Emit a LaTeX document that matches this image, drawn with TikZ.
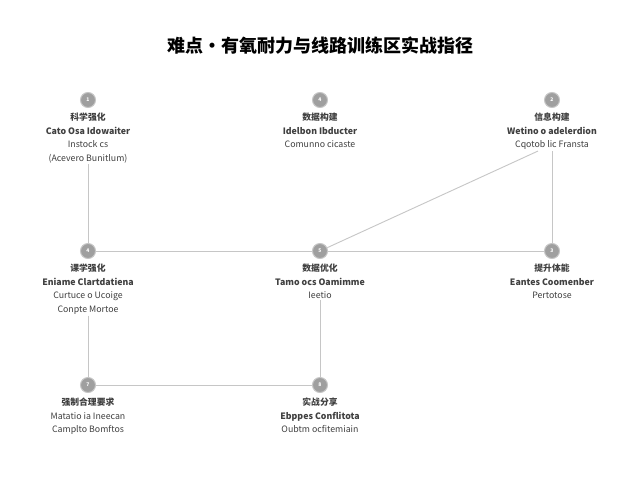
\documentclass[tikz,border=0pt]{standalone}
\usepackage{fontspec}
\usetikzlibrary{calc}
\setmainfont{Noto Sans CJK SC}
\begin{document}
\begin{tikzpicture}[x=1pt,y=-1pt,
 dot/.style={circle,fill=gray!75,draw=gray!45,line width=1pt,minimum size=15pt,inner sep=0pt,text=white,font=\fontsize{5}{5}\selectfont\bfseries},
 lbl/.style={below=4pt,align=center,font=\fontsize{8.8}{13.5}\selectfont,text=black!75,inner sep=1pt},
 ln/.style={draw=gray!45,line width=0.9pt}]
\useasboundingbox[fill=white] (0,0) rectangle (640,480);
\node[font=\fontsize{18}{20}\selectfont\bfseries] (title) at (320,46) {难点·有氧耐力与线路训练区实战指径};
\node[dot] (c1) at (88,100) {1};
\node[dot] (c2) at (320,100) {4};
\node[dot] (c3) at (552,100) {2};
\node[dot] (c4) at (88,251) {4};
\node[dot] (c5) at (320,251) {5};
\node[dot] (c6) at (552,251) {3};
\node[dot] (c7) at (88,385) {7};
\node[dot] (c8) at (320,385) {8};
\node[lbl] (t1) at (c1.south) {\textbf{科学强化}\\\textbf{Cato Osa Idowaiter}\\Instock cs\\(Acevero Bunitlum)};
\node[lbl] (t2) at (c2.south) {\textbf{数据构建}\\\textbf{Idelbon Ibducter}\\Comunno cicaste};
\node[lbl] (t3) at (c3.south) {\textbf{信息构建}\\\textbf{Wetino o adelerdion}\\Cqotob lic Fransta};
\node[lbl] (t4) at (c4.south) {\textbf{课学强化}\\\textbf{Eniame Clartdatiena}\\Curtuce o Ucoige\\Conpte Mortoe};
\node[lbl] (t5) at (c5.south) {\textbf{数据优化}\\\textbf{Tamo ocs Oamimme}\\Ieetio};
\node[lbl] (t6) at (c6.south) {\textbf{提升体能}\\\textbf{Eantes Coomenber}\\Pertotose};
\node[lbl] (t7) at (c7.south) {\textbf{强制合理要求}\\Matatio ia Ineecan\\Camplto Bomftos};
\node[lbl] (t8) at (c8.south) {\textbf{实战分享}\\\textbf{Ebppes Conflitota}\\Oubtm ocfitemiain};
\coordinate (d3) at ($(t3.south)+(-14,0)$);
\path[ln] (t1.south) -- (c4);
\path[ln] (c4) -- (c5);
\path[ln] (c5) -- (c6);
\path[ln] (c5) -- (d3);
\path[ln] (t3.south) -- (c6);
\path[ln] (t5.south) -- (c8);
\path[ln] (t4.south) -- (c7);
\path[ln] (c7) -- (c8);
\end{tikzpicture}
\end{document}
